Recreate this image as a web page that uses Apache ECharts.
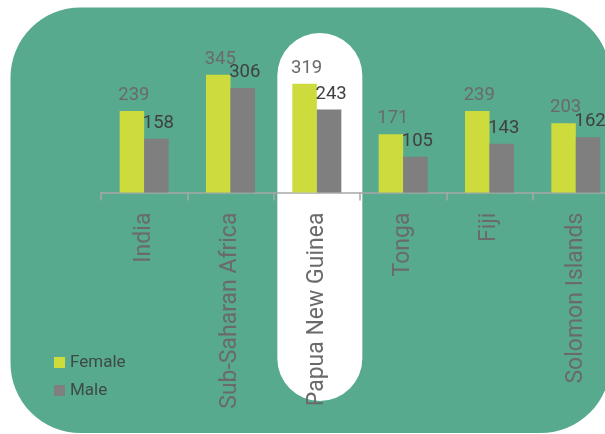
<!DOCTYPE html>
<html>
<head>
<meta charset="utf-8">
<script src="https://cdn.jsdelivr.net/npm/echarts@6/dist/echarts.min.js"></script>
<style>
html,body{margin:0;padding:0;background:#fff;}
#chart{width:605px;height:434px;}
</style>
</head>
<body>
<div id="chart"></div>
<script>
const categories = ['India', 'Sub-Saharan Africa', 'Papua New Guinea', 'Tonga', 'Fiji', 'Solomon Islands'];
const femaleValues = [239, 345, 319, 171, 239, 203];
const maleValues = [158, 306, 243, 105, 143, 162];
const highlightCategory = 'Papua New Guinea';

const GREEN = '#57aa8e';
const chart = echarts.init(document.getElementById('chart'), null, {renderer: 'canvas'});

const FONT = 'Roboto, "Liberation Sans", Arial, sans-serif';

const option = {
  animation: false,
  backgroundColor: '#ffffff',
  grid: {left: 101, top: 56, width: 518, height: 136.6, containLabel: false, outerBoundsMode: 'none'},
  legend: {
    orient: 'vertical',
    left: 54,
    top: 354,
    padding: 0,
    itemWidth: 11,
    itemHeight: 11,
    itemGap: 11,
    icon: 'rect',
    textStyle: {fontFamily: FONT, fontSize: 17, color: '#3e4a45', padding: [0, 0, 0, 0]},
    data: ['Female', 'Male']
  },
  xAxis: {
    type: 'category',
    data: categories,
    axisLine: {show: true, lineStyle: {color: '#a8a8a8', width: 1.5}},
    axisTick: {show: true, length: 8, lineStyle: {color: '#a8a8a8', width: 1.5}},
    axisLabel: {
      rotate: 90,
      margin: 20,
      interval: 0,
      fontFamily: FONT,
      fontSize: 23,
      color: '#6a6a6a'
    }
  },
  yAxis: {
    type: 'value',
    min: 0,
    max: 400,
    show: false,
    splitLine: {show: false}
  },
  series: [
    {
      name: 'Female',
      type: 'bar',
      data: femaleValues,
      barWidth: 24.5,
      barGap: '0%',
      itemStyle: {color: '#cddb3d'},
      label: {
        show: true,
        position: 'top',
        distance: 6,
        offset: [2, 0],
        fontFamily: FONT,
        fontSize: 18.5,
        color: '#6a6a6a'
      }
    },
    {
      name: 'Male',
      type: 'bar',
      data: maleValues,
      barWidth: 24.5,
      barGap: '0%',
      itemStyle: {color: '#7f7f7f'},
      label: {
        show: true,
        position: 'top',
        distance: 6,
        offset: [2, 0],
        fontFamily: FONT,
        fontSize: 18.5,
        color: '#404040'
      }
    }
  ]
};
chart.setOption(option);

// Decorative background panel and highlight pill, positioned from the axis
const cx = chart.convertToPixel({xAxisIndex: 0}, highlightCategory);
const pillW = 85;
chart.setOption({
  graphic: [
    {
      type: 'rect',
      z: -10,
      silent: true,
      shape: {x: 10.5, y: 7.5, width: 600, height: 425.5, r: 70},
      style: {fill: GREEN}
    },
    {
      type: 'rect',
      z: -9,
      silent: true,
      shape: {x: cx + 3 - pillW / 2, y: 33, width: pillW, height: 368, r: pillW / 2},
      style: {fill: '#ffffff'}
    }
  ]
});
</script>
</body>
</html>
